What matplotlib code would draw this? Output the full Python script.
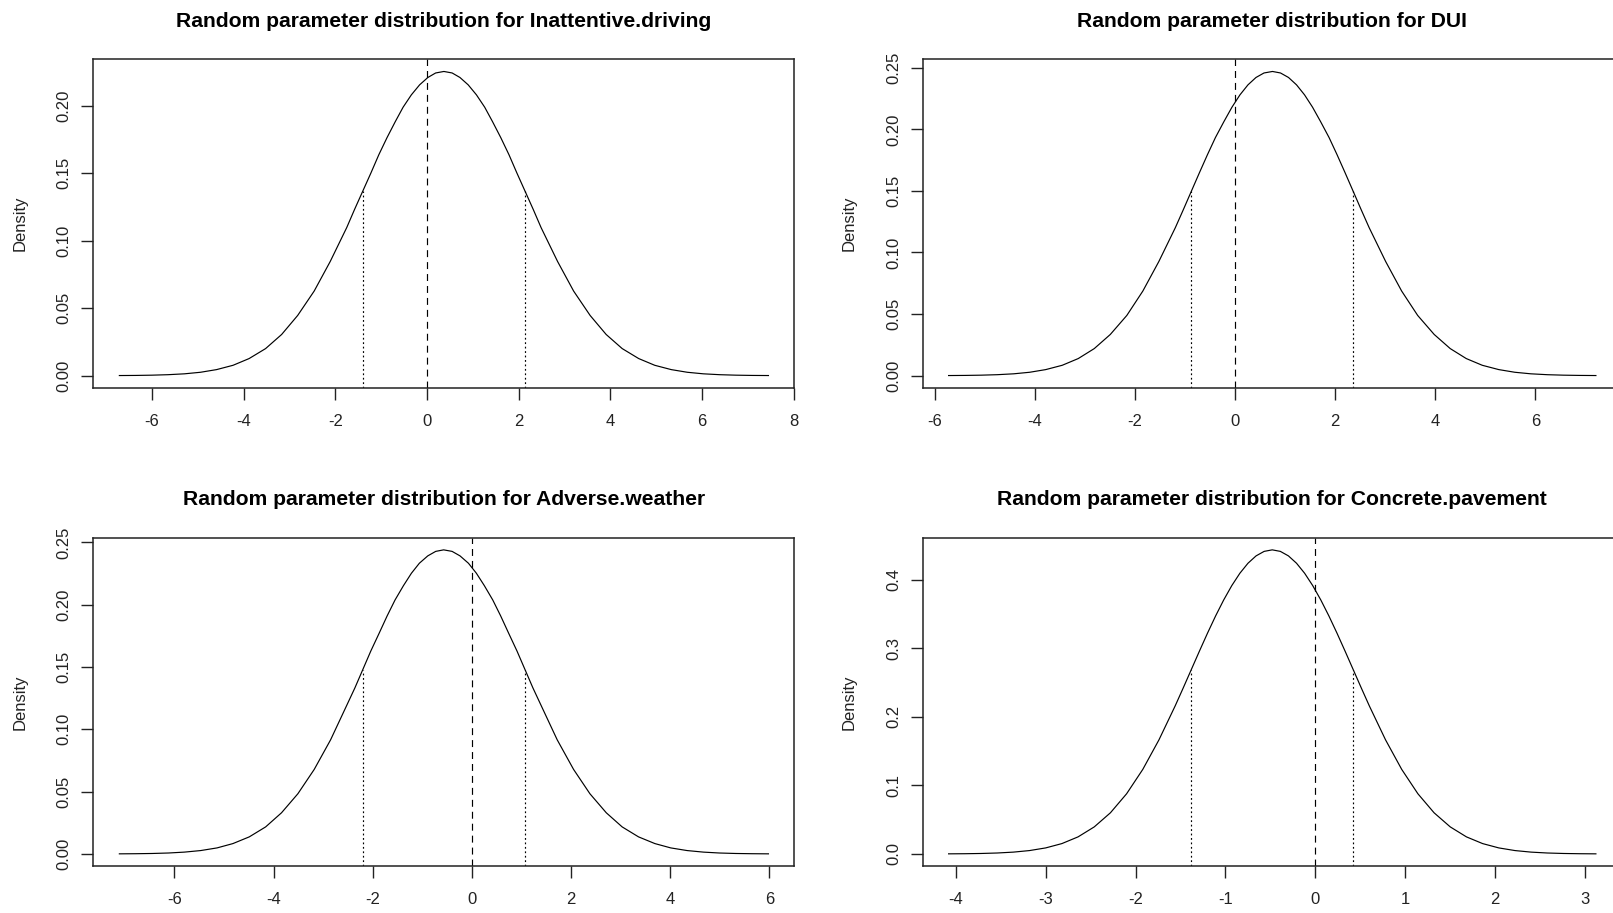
import matplotlib
matplotlib.use("Agg")
import matplotlib.pyplot as plt

plt.rcParams['font.family'] = ['Liberation Sans', 'DejaVu Sans']
plt.rcParams['lines.scale_dashes'] = False

# ---------------- data ----------------
titles = ["Random parameter distribution for Inattentive.driving",
          "Random parameter distribution for DUI",
          "Random parameter distribution for Adverse.weather",
          "Random parameter distribution for Concrete.pavement"]

x_inatt = [-6.71, -6.36, -6.00, -5.65, -5.29, -4.94, -4.59, -4.23, -3.88, -3.52, -3.17,
           -2.82, -2.46, -2.11, -1.75, -1.58, -1.40, -1.22, -1.05, -0.87, -0.69, -0.52,
           -0.34, -0.16, 0.02, 0.19, 0.37, 0.55, 0.72, 0.90, 1.08, 1.26, 1.43, 1.61,
           1.79, 1.96, 2.14, 2.32, 2.49, 2.85, 3.20, 3.56, 3.91, 4.26, 4.62, 4.97,
           5.33, 5.68, 6.03, 6.39, 6.74, 7.10, 7.45]
y_inatt = [0.00008, 0.00016, 0.00035, 0.00070, 0.00135, 0.00250, 0.00447, 0.00767,
           0.01265, 0.02004, 0.03050, 0.04460, 0.06267, 0.08459, 0.10971, 0.12308,
           0.13671, 0.15033, 0.16367, 0.17642, 0.18826, 0.19891, 0.20806, 0.21547,
           0.22093, 0.22427, 0.22539, 0.22427, 0.22093, 0.21547, 0.20806, 0.19891,
           0.18826, 0.17642, 0.16367, 0.15033, 0.13671, 0.12308, 0.10971, 0.08459,
           0.06267, 0.04460, 0.03050, 0.02004, 0.01265, 0.00767, 0.00447, 0.00250,
           0.00135, 0.00070, 0.00035, 0.00016, 0.00008]

x_dui = [-5.72, -5.39, -5.07, -4.75, -4.42, -4.10, -3.78, -3.45, -3.13, -2.81, -2.49,
         -2.16, -1.84, -1.52, -1.19, -1.03, -0.87, -0.71, -0.55, -0.39, -0.22, -0.06,
         0.10, 0.26, 0.42, 0.58, 0.75, 0.91, 1.07, 1.23, 1.39, 1.55, 1.71, 1.88,
         2.04, 2.20, 2.36, 2.52, 2.68, 3.01, 3.33, 3.65, 3.98, 4.30, 4.62, 4.94,
         5.27, 5.59, 5.91, 6.24, 6.56, 6.88, 7.21]
y_dui = [0.00008, 0.00018, 0.00038, 0.00076, 0.00148, 0.00274, 0.00490, 0.00841,
         0.01387, 0.02197, 0.03343, 0.04888, 0.06868, 0.09271, 0.12024, 0.13489,
         0.14983, 0.16476, 0.17938, 0.19335, 0.20633, 0.21800, 0.22803, 0.23615,
         0.24213, 0.24579, 0.24702, 0.24579, 0.24213, 0.23615, 0.22803, 0.21800,
         0.20633, 0.19335, 0.17938, 0.16476, 0.14983, 0.13489, 0.12024, 0.09271,
         0.06868, 0.04888, 0.03343, 0.02197, 0.01387, 0.00841, 0.00490, 0.00274,
         0.00148, 0.00076, 0.00038, 0.00018, 0.00008]

x_weather = [-7.11, -6.78, -6.45, -6.12, -5.80, -5.47, -5.14, -4.82, -4.49, -4.16, -3.84,
             -3.51, -3.18, -2.85, -2.53, -2.36, -2.20, -2.04, -1.87, -1.71, -1.55, -1.38,
             -1.22, -1.06, -0.89, -0.73, -0.57, -0.40, -0.24, -0.07, 0.09, 0.25, 0.42,
             0.58, 0.74, 0.91, 1.07, 1.23, 1.40, 1.72, 2.05, 2.38, 2.71, 3.03, 3.36,
             3.69, 4.01, 4.34, 4.67, 4.99, 5.32, 5.65, 5.98]
y_weather = [0.00008, 0.00018, 0.00037, 0.00075, 0.00146, 0.00271, 0.00484, 0.00831,
             0.01370, 0.02170, 0.03302, 0.04829, 0.06784, 0.09158, 0.11877, 0.13324,
             0.14799, 0.16274, 0.17718, 0.19098, 0.20381, 0.21533, 0.22524, 0.23326,
             0.23917, 0.24278, 0.24400, 0.24278, 0.23917, 0.23326, 0.22524, 0.21533,
             0.20381, 0.19098, 0.17718, 0.16274, 0.14799, 0.13324, 0.11877, 0.09158,
             0.06784, 0.04829, 0.03302, 0.02170, 0.01370, 0.00831, 0.00484, 0.00271,
             0.00146, 0.00075, 0.00037, 0.00018, 0.00008]

x_concrete = [-4.08, -3.90, -3.72, -3.54, -3.36, -3.18, -3.00, -2.82, -2.64, -2.46, -2.28,
              -2.10, -1.92, -1.74, -1.56, -1.47, -1.38, -1.29, -1.20, -1.11, -1.02, -0.93,
              -0.84, -0.75, -0.66, -0.57, -0.48, -0.39, -0.30, -0.21, -0.12, -0.03, 0.06,
              0.15, 0.24, 0.33, 0.42, 0.51, 0.60, 0.78, 0.96, 1.14, 1.32, 1.50, 1.68,
              1.86, 2.04, 2.22, 2.40, 2.58, 2.76, 2.94, 3.12]
y_concrete = [0.00015, 0.00032, 0.00068, 0.00137, 0.00265, 0.00492, 0.00879, 0.01509,
              0.02488, 0.03942, 0.05999, 0.08772, 0.12325, 0.16636, 0.21576, 0.24206,
              0.26886, 0.29565, 0.32188, 0.34695, 0.37025, 0.39118, 0.40919, 0.42376,
              0.43449, 0.44106, 0.44327, 0.44106, 0.43449, 0.42376, 0.40919, 0.39118,
              0.37025, 0.34695, 0.32188, 0.29565, 0.26886, 0.24206, 0.21576, 0.16636,
              0.12325, 0.08772, 0.05999, 0.03942, 0.02488, 0.01509, 0.00879, 0.00492,
              0.00265, 0.00137, 0.00068, 0.00032, 0.00015]

# dotted interval lines (lower, upper) and their heights on the curve
q_lower = [-1.40, -0.87, -2.20, -1.38]
q_upper = [2.14, 2.36, 1.07, 0.42]
q_height = [0.13671, 0.14983, 0.14799, 0.26886]

x_ticks = [[-6, -4, -2, 0, 2, 4, 6, 8],
           [-6, -4, -2, 0, 2, 4, 6],
           [-6, -4, -2, 0, 2, 4, 6],
           [-4, -3, -2, -1, 0, 1, 2, 3]]
y_ticks = [[0.00, 0.05, 0.10, 0.15, 0.20],
           [0.00, 0.05, 0.10, 0.15, 0.20, 0.25],
           [0.00, 0.05, 0.10, 0.15, 0.20, 0.25],
           [0.0, 0.1, 0.2, 0.3, 0.4]]
y_labels = [["0.00", "0.05", "0.10", "0.15", "0.20"],
            ["0.00", "0.05", "0.10", "0.15", "0.20", "0.25"],
            ["0.00", "0.05", "0.10", "0.15", "0.20", "0.25"],
            ["0.0", "0.1", "0.2", "0.3", "0.4"]]

xs = [x_inatt, x_dui, x_weather, x_concrete]
ys = [y_inatt, y_dui, y_weather, y_concrete]

# ---------------- layout ----------------
W, H = 1613, 913
fig = plt.figure(figsize=(W / 100, H / 100), dpi=100)
boxes = [(93.4, 59.3, 794.4, 387.7),
         (922.7, 59.3, 1621.8, 387.7),
         (93.4, 537.7, 794.4, 866.0),
         (922.7, 537.7, 1621.8, 866.0)]

for i in range(4):
    l, t, r, b = boxes[i]
    ax = fig.add_axes([l / W, 1 - b / H, (r - l) / W, (b - t) / H])
    x, y = xs[i], ys[i]
    xr = max(x) - min(x)
    yr = max(y) - min(y)
    x0, x1 = min(x) - 0.04 * xr, max(x) + 0.04 * xr
    y0, y1 = min(y) - 0.04 * yr, max(y) + 0.04 * yr
    ax.plot(x, y, color='black', lw=0.85, solid_joinstyle='round')
    ax.axvline(0, color='black', lw=0.85, linestyle=(0, (5.0, 3.6)))
    ax.vlines([q_lower[i], q_upper[i]], y0, [q_height[i], q_height[i]],
              colors='black', lw=0.85, linestyles=[(0, (1.3, 1.9))])
    ax.set_xlim(x0, x1)
    ax.set_ylim(y0, y1)
    ax.set_xticks(x_ticks[i])
    ax.set_xticklabels([str(v) for v in x_ticks[i]])
    ax.set_yticks(y_ticks[i])
    ax.set_yticklabels(y_labels[i], rotation=90, va='center')
    ax.tick_params(direction='out', length=8.6, width=1.0, labelsize=12,
                   colors='#222222')
    ax.tick_params(axis='x', pad=10)
    ax.tick_params(axis='y', pad=7)
    for s in ax.spines.values():
        s.set_linewidth(1.1)
        s.set_color('#222222')
    ax.set_title(titles[i], fontsize=15.2, fontweight='bold', pad=23.5)
    ax.text(-73.4 / (r - l), 0.5, "Density", transform=ax.transAxes,
            rotation=90, ha='center', va='center', fontsize=12, color='#222222')

fig.savefig("out.png", dpi=100)
